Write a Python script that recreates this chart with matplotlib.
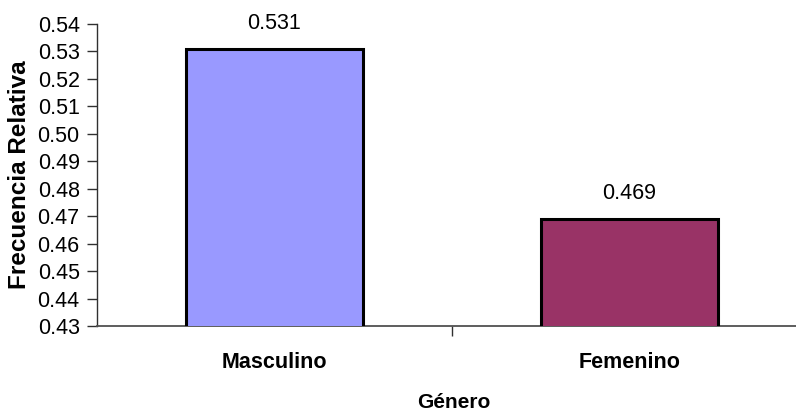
# Bar chart: relative frequency by gender
import matplotlib
matplotlib.use('Agg')
import matplotlib.pyplot as plt
from matplotlib.ticker import FormatStrFormatter

plt.rcParams['font.family'] = ['Liberation Sans', 'DejaVu Sans']

# data
categorias = ['Masculino', 'Femenino']
frecuencias = [0.531, 0.469]
colores = ['#9999FF', '#993366']
y_ticks = [0.43, 0.44, 0.45, 0.46, 0.47, 0.48, 0.49, 0.50, 0.51, 0.52, 0.53, 0.54]

fig = plt.figure(figsize=(7.96, 4.11), dpi=100)
ax = fig.add_axes([97 / 796, 85 / 411, 710 / 796, 302 / 411])

x = range(len(categorias))
bars = ax.bar(x, frecuencias, width=0.5, bottom=0, color=colores,
              edgecolor='black', linewidth=2.2, zorder=3)

ax.set_xlim(-0.5, 1.5)
ax.set_ylim(0.43, 0.54)

# value labels above the bars
for xi, v in zip(x, frecuencias):
    ax.annotate('%.3f' % v, (xi, v), xytext=(0, 18.5), textcoords='offset points',
                ha='center', va='center', fontsize=15.5, clip_on=False)

# axes styling
ax.spines['top'].set_visible(False)
ax.spines['right'].set_visible(False)
ax.spines['left'].set_color('#303030')
ax.spines['left'].set_linewidth(1.0)
ax.spines['bottom'].set_color('#505050')
ax.spines['bottom'].set_linewidth(1.3)

ax.set_yticks(y_ticks)
ax.yaxis.set_major_formatter(FormatStrFormatter('%.2f'))
ax.tick_params(axis='y', direction='out', length=7, width=1, pad=5.5,
               labelsize=15.5, color='#303030')

ax.set_xticks(list(x))
ax.set_xticklabels(categorias, fontweight='bold', fontsize=15.5)
ax.set_xticks([0.5], minor=True)
ax.tick_params(axis='x', which='major', length=0, pad=18.5)
ax.tick_params(axis='x', which='minor', direction='out', length=7, width=1,
               color='#303030')

fig.text(20 / 796, 1 - 175 / 411, 'Frecuencia Relativa', rotation=90,
         ha='center', va='center', fontsize=17.5, fontweight='bold')
fig.text(454 / 796, 3 / 411, 'Género', ha='center', va='baseline',
         fontsize=15, fontweight='bold')

fig.savefig('out.png', dpi=100)
